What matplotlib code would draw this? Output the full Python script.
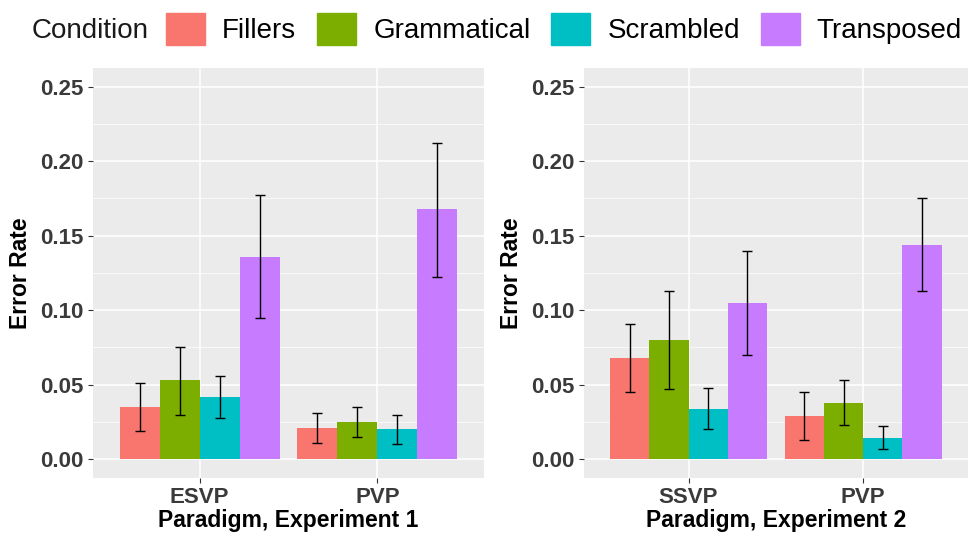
import matplotlib
matplotlib.use("Agg")
import matplotlib.pyplot as plt
import matplotlib.patches as mpatches
import numpy as np

plt.rcParams['font.family'] = ['Liberation Sans', 'DejaVu Sans']

conditions = ['Fillers', 'Grammatical', 'Scrambled', 'Transposed']
colors = ['#F8766D', '#7CAE00', '#00BFC4', '#C77CFF']

exp1_paradigms = ['ESVP', 'PVP']
exp1_means = [[0.035, 0.021],   # Fillers
              [0.053, 0.025],   # Grammatical
              [0.042, 0.020],   # Scrambled
              [0.136, 0.168]]   # Transposed
exp1_low = [[0.019, 0.011],
            [0.030, 0.015],
            [0.028, 0.010],
            [0.095, 0.122]]
exp1_high = [[0.051, 0.031],
             [0.075, 0.035],
             [0.056, 0.030],
             [0.177, 0.212]]

exp2_paradigms = ['SSVP', 'PVP']
exp2_means = [[0.068, 0.029],
              [0.080, 0.038],
              [0.034, 0.014],
              [0.105, 0.144]]
exp2_low = [[0.045, 0.013],
            [0.047, 0.023],
            [0.020, 0.007],
            [0.070, 0.113]]
exp2_high = [[0.091, 0.045],
             [0.113, 0.053],
             [0.048, 0.022],
             [0.140, 0.175]]

y_ticks = [0.00, 0.05, 0.10, 0.15, 0.20, 0.25]


def draw_panel(ax, paradigms, means, low, high, xlabel):
    ax.set_facecolor('#EBEBEB')
    x = np.arange(len(paradigms))
    bw = 0.9 / len(conditions)
    for i, cond in enumerate(conditions):
        pos = x + (i - 1.5) * bw
        m = np.array(means[i])
        err = [m - np.array(low[i]), np.array(high[i]) - m]
        ax.bar(pos, m, width=bw, color=colors[i], label=cond, zorder=3)
        ax.errorbar(pos, m, yerr=err, fmt='none', ecolor='black',
                    elinewidth=1.0, capsize=3.5, capthick=1.0, zorder=4)
    ax.set_xlim(-0.6, len(paradigms) - 0.4)
    ax.set_ylim(-0.0125, 0.2625)
    ax.set_yticks(y_ticks)
    ax.set_yticklabels(['%.2f' % t for t in y_ticks])
    ax.set_yticks(np.arange(0.025, 0.26, 0.05), minor=True)
    ax.set_xticks(x)
    ax.set_xticklabels(paradigms)
    ax.grid(which='major', color='white', linewidth=1.1, zorder=0)
    ax.grid(which='minor', axis='y', color='white', linewidth=0.5, zorder=0)
    ax.set_axisbelow(True)
    for s in ax.spines.values():
        s.set_visible(False)
    ax.tick_params(which='major', length=3.5, width=0.8, color='#333333',
                   labelsize=16, labelcolor='#3a3a3a', pad=3)
    ax.tick_params(which='minor', length=0)
    for lab in ax.get_xticklabels() + ax.get_yticklabels():
        lab.set_fontweight('bold')
    ax.set_ylabel('Error Rate', fontsize=16.5, fontweight='bold', labelpad=6)
    ax.set_xlabel(xlabel, fontsize=16.5, fontweight='bold', labelpad=1)


fig = plt.figure(figsize=(9.68, 5.4), dpi=100)
ax1 = fig.add_axes([0.096, 0.115, 0.404, 0.759])
ax2 = fig.add_axes([0.603, 0.115, 0.397, 0.759])

draw_panel(ax1, exp1_paradigms, exp1_means, exp1_low, exp1_high,
           'Paradigm, Experiment 1')
draw_panel(ax2, exp2_paradigms, exp2_means, exp2_low, exp2_high,
           'Paradigm, Experiment 2')

handles = [mpatches.Patch(color=c, label=l) for c, l in zip(colors, conditions)]
fig.text(0.033, 0.942, 'Condition', fontsize=20, va='center', ha='left',
         color='#1a1a1a')
fig.legend(handles=handles, ncol=4, loc='center left',
           bbox_to_anchor=(0.1715, 0.947), frameon=False, fontsize=20,
           handlelength=1.4, handleheight=1.4, handletextpad=0.62,
           columnspacing=0.75, borderaxespad=0, borderpad=0)

fig.savefig('out.png', dpi=100)
